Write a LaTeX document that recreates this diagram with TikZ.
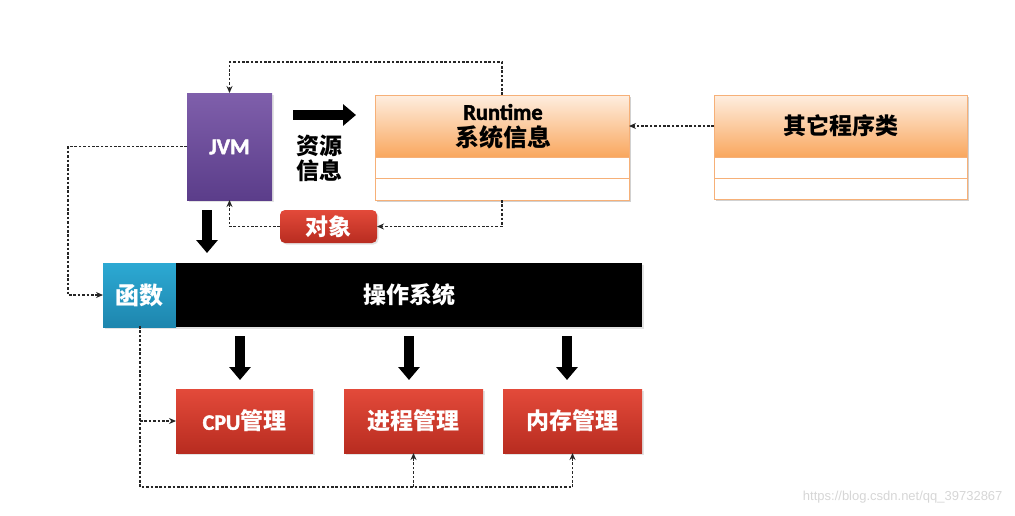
\documentclass[tikz,border=0pt]{standalone}
\usepackage{fontspec}
\setmainfont{Carlito}
\newfontfamily\latinb{Carlito}[FakeBold=2]
\newfontfamily\cjk{Noto Sans CJK SC}
\newfontfamily\wmfont{Liberation Sans}
\usetikzlibrary{arrows.meta,shadows,calc}

\definecolor{jvmtop}{HTML}{7F5FAB}
\definecolor{jvmbot}{HTML}{5B3D8A}
\definecolor{orglight}{HTML}{FEEEE0}
\definecolor{orgdark}{HTML}{F9A75E}
\definecolor{orgline}{HTML}{F6B078}
\definecolor{redtop}{HTML}{E34A3A}
\definecolor{redbot}{HTML}{B82C20}
\definecolor{bluetop}{HTML}{2CA9D3}
\definecolor{bluebot}{HTML}{1E86AE}

\tikzset{
  box/.style={anchor=north west, inner sep=0pt, outer sep=0pt},
  softshadow/.style={drop shadow={opacity=0.22, shadow xshift=1.5pt, shadow yshift=-1.5pt}},
  jvmbox/.style={box, top color=jvmtop, bottom color=jvmbot, softshadow},
  headbox/.style={box, top color=orglight, bottom color=orgdark, draw=orgline, line width=0.8pt},
  rowbox/.style={box, fill=white, draw=orgline, line width=0.8pt},
  redbox/.style={box, top color=redtop, bottom color=redbot, text=white, softshadow,
    font=\cjk\bfseries\fontsize{23}{23}\selectfont},
  fnbox/.style={box, top color=bluetop, bottom color=bluebot, text=white, softshadow,
    font=\cjk\bfseries\fontsize{24}{24}\selectfont},
  osbox/.style={box, fill=black, text=white, softshadow,
    font=\cjk\bfseries\fontsize{23}{23}\selectfont},
  latinlabel/.style={font=\latinb\bfseries\fontsize{22.5}{22.5}\selectfont},
  link/.style={draw=black!85, line width=1.1pt, dash pattern=on 2.6pt off 1.8pt},
  linkarrow/.style={link, -{Stealth[length=7pt,width=6pt]}},
  bigarrow/.style={line width=10pt, -{Triangle[length=13pt,width=21pt]}},
}

\begin{document}
\begin{tikzpicture}[x=1pt, y=-1pt]
\useasboundingbox (0,0) rectangle (1015,515);

% JVM
\node[jvmbox, minimum width=85pt, minimum height=107pt] (jvm) at (187,93) {};
\node[latinlabel, text=white] (jvmtxt) at (229.5,147) {JVM};

% Runtime class box
\fill[black, opacity=0.18] (377,97) rectangle (631,202);
\node[headbox, minimum width=254pt, minimum height=62pt] (rth) at (375,95) {};
\node[rowbox, minimum width=254pt, minimum height=21pt] (rtr1) at (375,157) {};
\node[rowbox, minimum width=254pt, minimum height=22pt] (rtr2) at (375,178) {};
\node[latinlabel] (rtname) at (503,112) {Runtime};
\node[font=\cjk\bfseries\fontsize{24}{24}\selectfont] (rtsub) at (503,137) {系统信息};

% other classes box
\fill[black, opacity=0.18] (716,97) rectangle (969,201);
\node[headbox, minimum width=253pt, minimum height=62pt] (oth) at (714,95) {};
\node[rowbox, minimum width=253pt, minimum height=21pt] (otr1) at (714,157) {};
\node[rowbox, minimum width=253pt, minimum height=21pt] (otr2) at (714,178) {};
\node[font=\cjk\bfseries\fontsize{23}{23}\selectfont] (othtxt) at (840.5,126) {其它程序类};

% resource info label and arrow
\node[font=\cjk\bfseries\fontsize{23}{25}\selectfont, align=center, inner sep=0pt] (res) at (319.5,158) {资源\\信息};
\coordinate (ra1) at (293,115);
\coordinate (ra2) at (356,115);
\draw[bigarrow] (ra1) -- (ra2);

% object box
\node[redbox, rounded corners=5pt, minimum width=97pt, minimum height=33pt] (obj) at (280,210) {对象};

% function + operating system bar
\node[fnbox, minimum width=73pt, minimum height=64pt] (fn) at (103,263) {函数};
\node[osbox, minimum width=466pt, minimum height=64pt] (os) at (176,263) {操作系统};

% management boxes
\node[redbox, minimum width=137pt, minimum height=64pt] (cpu) at (176,389)
  {\latinb\fontsize{22}{22}\selectfont CPU\cjk\bfseries\fontsize{23}{23}\selectfont 管理};
\node[redbox, minimum width=139pt, minimum height=64pt] (proc) at (344,389) {进程管理};
\node[redbox, minimum width=139pt, minimum height=64pt] (mem) at (503,389) {内存管理};

% solid arrows
\coordinate (ja1) at (207,210);
\coordinate (ja2) at (207,253);
\draw[bigarrow] (ja1) -- (ja2);
\foreach \n/\x in {a/240, b/409, c/567}{
  \coordinate (d\n1) at (\x,336);
  \coordinate (d\n2) at (\x,380);
  \draw[bigarrow] (d\n1) -- (d\n2);
}

% dashed connectors
\draw[linkarrow] (rth.north) -- ++(0,-33) -| (jvm.north);
\draw[linkarrow] (oth.west) -- (rth.east);
\draw[linkarrow] (rtr2.south) |- (obj.east);
\draw[linkarrow] (obj.west) -| (jvm.south);
\draw[linkarrow] (jvm.west) -- ++(-119,0) |- (fn.west);

\coordinate (fnb) at (140,326);
\coordinate (bot) at (140,487);
\coordinate (cpuj) at (140,421);
\draw[link] (fnb) -- (bot) -- (bot -| mem.south);
\draw[linkarrow] (cpuj) -- (cpu.west);
\draw[linkarrow] (bot -| proc.south) -- (proc.south);
\draw[linkarrow] (bot -| mem.south) -- (mem.south);

% watermark
\node[text=black!16, font=\wmfont\fontsize{13}{13}\selectfont, anchor=east] (wm) at (1006,497) {https://blog.csdn.net/qq\_39732867};
\end{tikzpicture}
\end{document}
